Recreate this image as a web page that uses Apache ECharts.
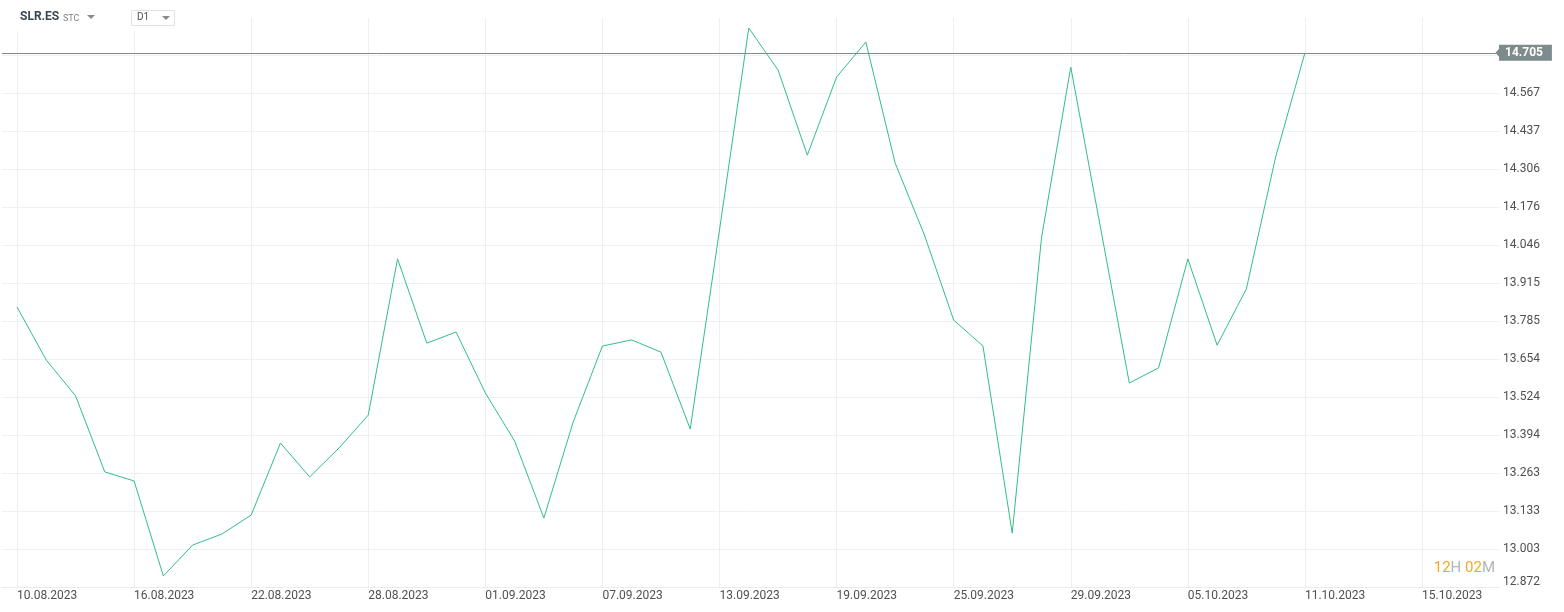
<!DOCTYPE html>
<html>
<head>
<meta charset="utf-8">
<style>
  html, body { margin: 0; padding: 0; background: #ffffff; }
  #chart { width: 1564px; height: 612px; }
</style>
<script src="https://cdn.jsdelivr.net/npm/echarts@6/dist/echarts.min.js"></script>
</head>
<body>
<div id="chart"></div>
<script>
// ---- data ----
const dates = [
  '10.08.2023','11.08.2023','14.08.2023','15.08.2023','16.08.2023','17.08.2023','18.08.2023',
  '21.08.2023','22.08.2023','23.08.2023','24.08.2023','25.08.2023','28.08.2023','29.08.2023',
  '30.08.2023','31.08.2023','01.09.2023','04.09.2023','05.09.2023','06.09.2023','07.09.2023',
  '08.09.2023','11.09.2023','12.09.2023','13.09.2023','14.09.2023','15.09.2023','18.09.2023',
  '19.09.2023','20.09.2023','21.09.2023','22.09.2023','25.09.2023','26.09.2023','27.09.2023',
  '28.09.2023','29.09.2023','02.10.2023','03.10.2023','04.10.2023','05.10.2023','06.10.2023',
  '09.10.2023','10.10.2023','11.10.2023'
];
const futureDates = ['12.10.2023','13.10.2023','14.10.2023','15.10.2023'];
const closes = [
  13.833, 13.651, 13.528, 13.267, 13.236, 12.910, 13.016, 13.054, 13.119, 13.366,
  13.250, 13.349, 13.462, 13.998, 13.709, 13.747, 13.538, 13.373, 13.109, 13.438,
  13.699, 13.720, 13.678, 13.414, 14.097, 14.790, 14.646, 14.354, 14.622, 14.742,
  14.327, 14.080, 13.788, 13.699, 13.057, 14.070, 14.656, 14.114, 13.572, 13.624,
  13.998, 13.702, 13.895, 14.348, 14.705
];
const lastPrice = 14.705;
const yMin = 12.8722;
const yStep = 0.13038;
const xStep = 4;
const countdownParts = ['12', 'H ', '02', 'M'];

// ---- chart ----
const allDates = dates.concat(futureDates);
const seriesData = closes.map((v, i) => [i, v]);

const chart = echarts.init(document.getElementById('chart'), null, { renderer: 'canvas' });
const labelFont = { fontFamily: 'Roboto', fontSize: 12, color: '#505050' };

chart.setOption({
  animation: false,
  backgroundColor: '#ffffff',
  grid: [
    { left: 2, right: 65, top: 18, bottom: 25 },
    { left: 17, right: 65, top: 18, bottom: 25 }
  ],
  xAxis: [
    {
      type: 'value', gridIndex: 0, min: -0.5125, max: 50.63,
      axisLine: { show: true, lineStyle: { color: '#ececec', width: 1 } },
      axisTick: { show: false }, axisLabel: { show: false }, splitLine: { show: false }
    },
    {
      type: 'value', gridIndex: 1, min: 0, max: 50.63, interval: xStep,
      axisLine: { show: false }, axisTick: { show: false },
      axisLabel: Object.assign({
        show: true, align: 'left', margin: 3, showMaxLabel: false,
        formatter: v => allDates[Math.round(v)] || ''
      }, labelFont),
      splitLine: { show: true, showMaxLine: false, lineStyle: { color: '#efefef', width: 1 } }
    }
  ],
  yAxis: [
    {
      type: 'value', gridIndex: 0, position: 'right', min: yMin, max: 14.8245, interval: yStep,
      axisLine: { show: false }, axisTick: { show: false },
      axisLabel: Object.assign({
        show: true, margin: 4, align: 'left', showMaxLabel: false,
        formatter: v => (Math.abs(v - yMin) < 1e-6 ? '{b|' + v.toFixed(3) + '}' : v.toFixed(3)),
        rich: { b: { fontFamily: 'Roboto', fontSize: 12, color: '#505050', padding: [0, 0, 10, 0] } }
      }, labelFont),
      splitLine: { show: true, showMaxLine: false, lineStyle: { color: '#f0f0f0', width: 1 } }
    },
    {
      type: 'value', gridIndex: 1, min: yMin, max: 14.8245, show: false,
      splitLine: { show: false }
    }
  ],
  series: [
    {
      type: 'line', xAxisIndex: 0, yAxisIndex: 0,
      data: seriesData,
      showSymbol: false, symbol: 'none',
      lineStyle: { color: '#33be86', width: 1 },
      clip: false,
      markLine: {
        silent: true,
        precision: 3,
        symbol: ['none', 'path://M0,0 L10,0 L5,10 Z'],
        symbolSize: [16, 7],
        lineStyle: { color: '#7d8b8b', width: 1, type: 'solid' },
        label: {
          show: true, position: 'end', distance: 0,
          formatter: p => Number(p.value).toFixed(3),
          backgroundColor: '#7e8b8c', color: '#ffffff',
          fontFamily: 'Roboto', fontSize: 12, fontWeight: 'bold',
          padding: [2, 9, 2, 6], lineHeight: 12
        },
        data: [{ yAxis: lastPrice }]
      }
    }
  ],
  graphic: [
    { type: 'rect', left: 0, top: 0, shape: { width: 180, height: 31 }, style: { fill: '#ffffff' }, z: 10 },
    { type: 'text', left: 20, top: 11, z: 11,
      style: { text: 'SLR.ES', font: 'bold 12px Roboto', fill: '#3a4854' } },
    { type: 'text', left: 63, top: 14, z: 11,
      style: { text: 'STC', font: '9px Roboto', fill: '#808080' } },
    { type: 'polygon', z: 11, shape: { points: [[87, 15], [95, 15], [91, 19]] }, style: { fill: '#8a8a8a' } },
    { type: 'rect', z: 11, shape: { x: 131.5, y: 10.5, width: 43, height: 15 }, style: { fill: '#ffffff', stroke: '#e2e2e2', lineWidth: 1 } },
    { type: 'text', left: 137, top: 12, z: 12,
      style: { text: 'D1', font: '10px Roboto', fill: '#505050' } },
    { type: 'polygon', z: 12, shape: { points: [[162, 16], [170, 16], [166, 20]] }, style: { fill: '#8a8a8a' } },
    { type: 'text', right: 69, top: 561, z: 11,
      style: {
        text: '{o|' + countdownParts[0] + '}{g|' + countdownParts[1] + '}{o|' + countdownParts[2] + '}{g|' + countdownParts[3] + '}',
        rich: {
          o: { fontFamily: 'Roboto', fontSize: 15, fill: '#f5a623', color: '#f5a623' },
          g: { fontFamily: 'Roboto', fontSize: 15, fill: '#b4b4b4', color: '#b4b4b4' }
        }
      }
    }
  ]
});
</script>
</body>
</html>
